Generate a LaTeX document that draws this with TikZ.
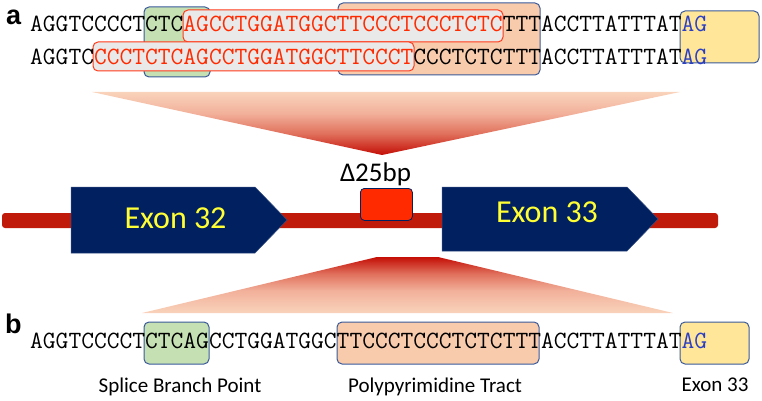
\documentclass[tikz,border=0pt]{standalone}
\usepackage{fontspec}
\newfontfamily\calib{Carlito}
\newfontfamily\arialf{Liberation Sans}
\definecolor{seqred}{HTML}{FF2A00}
\definecolor{seqblue}{HTML}{2B3FC4}
\definecolor{boxedge}{HTML}{3A5A9A}
\definecolor{grn}{HTML}{C5E0B3}
\definecolor{org}{HTML}{F8CBAD}
\definecolor{ylw}{HTML}{FFE699}
\definecolor{redbox}{HTML}{FF3A1A}
\definecolor{grayfill}{HTML}{E9E9E9}
\definecolor{navy}{HTML}{002060}
\definecolor{chrred}{HTML}{C01A0A}
\definecolor{peach}{HTML}{F9D3BB}
\definecolor{midpeach}{HTML}{F2B09A}
\definecolor{midred}{HTML}{E0705C}
\definecolor{deepred}{HTML}{C40E06}
\definecolor{exyellow}{HTML}{FFFF33}
\definecolor{delred}{HTML}{FF2A00}
\pgfdeclareverticalshading{upshade}{100bp}{color(0bp)=(deepred); color(25bp)=(deepred); color(42bp)=(midred); color(58bp)=(midpeach); color(75bp)=(peach); color(100bp)=(peach)}
\pgfdeclareverticalshading{downshade}{100bp}{color(0bp)=(peach); color(25bp)=(peach); color(45bp)=(midpeach); color(60bp)=(midred); color(75bp)=(deepred); color(100bp)=(deepred)}
\begin{document}
\begin{tikzpicture}[x=1pt,y=-1pt,
  regbox/.style={draw=boxedge, line width=1pt, rounded corners=5pt, inner sep=0pt, outer sep=0pt, anchor=north west},
  delbox/.style={draw=redbox, fill=grayfill, line width=1pt, rounded corners=5pt, inner sep=0pt, outer sep=0pt, anchor=north west},
  seq/.style={anchor=base west, inner sep=0pt, font=\ttfamily\fontsize{24.8}{28}\selectfont},
  lab/.style={anchor=base, inner sep=0pt, font=\calib\fontsize{21}{24}\selectfont},
  panel/.style={anchor=base west, inner sep=0pt, font=\arialf\bfseries\fontsize{27}{30}\selectfont},
  exontext/.style={anchor=base, inner sep=0pt, text=exyellow, font=\calib\fontsize{32}{36}\selectfont},
  exonshape/.style={fill=navy, draw=navy!80!white, line width=0.5pt}
]
\useasboundingbox (0,0) rectangle (762,401);

% ---------- panel a ----------
\node[regbox, fill=grn, minimum width=66pt, minimum height=70pt] (ga) at (144,7) {};
\node[regbox, fill=org, minimum width=202pt, minimum height=72pt] (oa) at (338,3) {};
\node[regbox, fill=ylw, minimum width=79pt, minimum height=52pt] (ya) at (680,11) {};
\node[delbox, minimum width=320pt, minimum height=32pt] (r1) at (183,10) {};
\node[delbox, minimum width=321pt, minimum height=29pt] (r2) at (93,42) {};

\node[panel] (pa) at (6,25) {a};
\node[seq] (l1) at (30,32) {AGGTCCCCTCTC\textcolor{seqred}{AGCCTGGATGGCTTCCCTCCCTCTC}TTTACCTTATTTAT\textcolor{seqblue}{AG}};
\node[seq] (l2) at (30,65) {AGGTC\textcolor{seqred}{CCCTCTCAGCCTGGATGGCTTCCCT}CCCTCTCTTTACCTTATTTAT\textcolor{seqblue}{AG}};

% ---------- zoom wedges ----------
\shade[shading=upshade] (92,92) -- (680,92) -- (382,155) -- cycle;
\shade[shading=downshade] (377,257) -- (438,257) -- (673,313) -- (142,313) -- cycle;

% ---------- gene ----------
\fill[chrred, rounded corners=3pt] (2,213) rectangle (718,228);
\fill[exonshape] (71,187) -- (255,187) -- (287,220) -- (255,253) -- (71,253) -- cycle;
\fill[exonshape] (442,187) -- (627,187) -- (658,219) -- (627,251) -- (442,251) -- cycle;
\node[exontext] (e32) at (175.5,228.3) {Exon 32};
\node[exontext] (e33) at (547,222.3) {Exon 33};
\node[draw=navy, line width=0.8pt, fill=delred, rounded corners=4pt, minimum width=52pt, minimum height=32pt, inner sep=0pt, anchor=north west] (del) at (360,188) {};
\node[anchor=base, inner sep=0pt, font=\calib\fontsize{27}{30}\selectfont] (dl) at (375.5,181.5) {Δ25bp};

% ---------- panel b ----------
\node[regbox, fill=grn, minimum width=65pt, minimum height=42pt] (gb) at (144,322) {};
\node[regbox, fill=org, minimum width=202pt, minimum height=42pt] (ob) at (337,322) {};
\node[regbox, fill=ylw, minimum width=69pt, minimum height=42pt] (yb) at (680,322) {};
\node[panel] (pb) at (5,333) {b};
\node[seq] (lb) at (30,348) {AGGTCCCCTCTCAGCCTGGATGGCTTCCCTCCCTCTCTTTACCTTATTTAT\textcolor{seqblue}{AG}};

\node[lab] (sbp) at (180,392) {Splice Branch Point};
\node[lab] (ppt) at (435,392) {Polypyrimidine Tract};
\node[lab] (ex33) at (715,391) {Exon 33};
\end{tikzpicture}
\end{document}
